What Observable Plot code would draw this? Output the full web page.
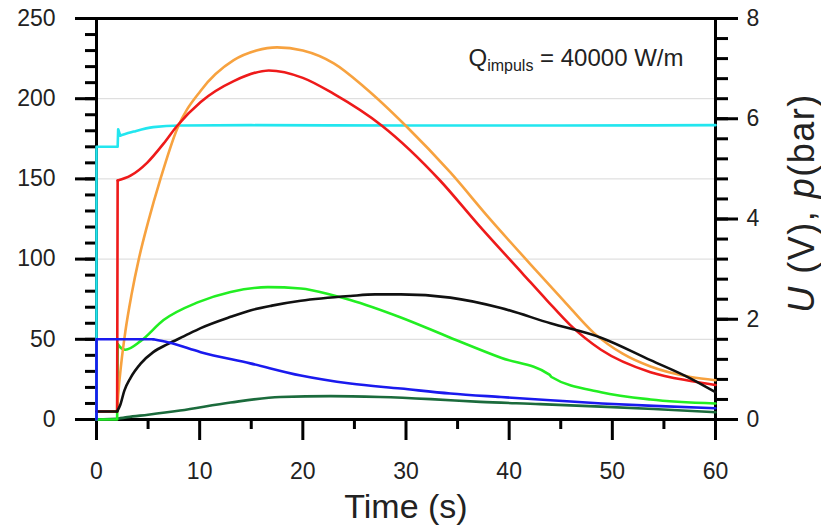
<!DOCTYPE html>
<html>
<head>
<meta charset="utf-8">
<script src="https://cdn.jsdelivr.net/npm/d3@7"></script>
<script src="https://cdn.jsdelivr.net/npm/@observablehq/plot@0.6"></script>
<style>
  html, body { margin: 0; padding: 0; background: #ffffff; }
  #chart { width: 821px; height: 527px; }
</style>
</head>
<body>
<div id="chart"></div>
<script>
// ---------- data (time in s, values in left-axis units) ----------
const xTicks = [0, 10, 20, 30, 40, 50, 60];
const xMinorTicks = [5, 15, 25, 35, 45, 55];
const yLeftTicks = [0, 50, 100, 150, 200, 250];
const yLeftMinorTicks = d3.range(0, 251, 10);
const yRightTicks = [0, 2, 4, 6, 8];
const yRightMinorTicks = d3.range(0, 8.01, 0.4);
const gridValues = [50, 100, 150, 200];
const rightMax = 8;
const leftMax = 250;

// each series: times, values, and the index where the step-like start ends (smooth curve afterwards)
const cyanT = [0, 0, 2.05, 2.1, 2.3, 3.6, 5.5, 8.1, 15, 30, 45, 60];
const cyanV = [0, 170, 170, 181, 177, 179.5, 182.3, 183.3, 183.5, 183.3, 183.3, 183.5];
const cyanStep = 4;

const blueT = [0, 0, 5.5, 7, 10.1, 14.9, 19.8, 24.6, 29.5, 34.3, 39.2, 44, 49, 54, 60];
const blueV = [0, 50, 50, 48, 42, 35, 27.4, 22.4, 19.3, 16.2, 14, 12, 10, 8.5, 7];
const blueStep = 2;

const darkGreenT = [0, 2, 3, 5, 8.1, 13, 17.8, 22.7, 27.5, 32.4, 37.2, 43, 48.9, 54, 60];
const darkGreenV = [0, 0.5, 1.5, 3, 5.6, 10.6, 14, 14.6, 14, 12.7, 11, 9.6, 8, 6.5, 4.5];
const darkGreenStep = 1;

const greenT = [0, 2, 2.05, 2.4, 2.8, 4.3, 6.5, 9.8, 13, 16.6, 19.8, 23, 24.6, 29.5, 34.3, 39.2, 43.9, 44.1, 48.9, 53.7, 60];
const greenV = [0, 0, 47, 44.5, 43.5, 49, 62, 73, 79.5, 82.5, 81.7, 77.3, 74.5, 63.6, 51, 38.5, 28, 26.5, 17, 12.5, 10];
const greenStep = 2;

const orangeT = [0, 2, 2.1, 2.4, 2.8, 3.4, 4.1, 5, 6.2, 7.8, 10.1, 13.3, 15.5, 17.5, 20, 23, 26, 30, 34.3, 38, 42.6, 45.3, 48.2, 51, 53.7, 57.6, 60];
const orangeV = [5, 5, 15, 35, 55, 78, 100, 123, 150, 181, 205, 224, 230, 232, 230, 222, 207, 183, 154, 126, 93, 74, 54, 41, 33, 26.5, 24.5];
const orangeStep = 1;

const redT = [0, 2, 2.05, 3.3, 4.9, 6.5, 7.8, 10.1, 13.3, 16.7, 20, 23, 27.7, 33.3, 37, 41.3, 43.7, 45.9, 48.9, 53.7, 57.6, 60];
const redV = [5, 5, 149, 152, 160, 172, 183, 198, 211, 217.6, 213, 203, 183, 149, 121.5, 91, 74, 59, 43.5, 29.5, 24, 21.5];
const redStep = 2;

const blackT = [0, 2, 2.3, 2.7, 3.3, 4.3, 5.5, 6.9, 8.5, 10.1, 13, 14.9, 17, 19.8, 24.6, 27, 29.5, 34.3, 39.2, 44, 48.9, 53.7, 57.6, 60];
const blackV = [5, 5, 9, 18, 26, 35, 42, 47, 52, 57, 64, 68, 71, 74, 77, 78, 78, 76, 69.5, 60, 51, 37, 25.5, 17];
const blackStep = 1;

const seriesList = [
  {t: cyanT, v: cyanV, step: cyanStep, color: "#22e6ef"},
  {t: darkGreenT, v: darkGreenV, step: darkGreenStep, color: "#1b6b3c"},
  {t: greenT, v: greenV, step: greenStep, color: "#22ee22"},
  {t: orangeT, v: orangeV, step: orangeStep, color: "#f7a23f"},
  {t: redT, v: redV, step: redStep, color: "#ee1a1a"},
  {t: blackT, v: blackV, step: blackStep, color: "#111111"},
  {t: blueT, v: blueV, step: blueStep, color: "#1a1aee"}
];

const toPoints = (s) => s.t.map((t, i) => ({t, v: s.v[i]}));
const rightToLeft = (r) => r * leftMax / rightMax;

const font = "'Liberation Sans', Arial, Helvetica, sans-serif";
const textColor = "#222";
const lw = 2.6;

const lineMarks = seriesList.flatMap(s => {
  const pts = toPoints(s);
  return [
    Plot.line(pts.slice(0, s.step + 1), {x: "t", y: "v", stroke: s.color, strokeWidth: lw, curve: "linear", strokeLinejoin: "round"}),
    Plot.line(pts.slice(s.step), {x: "t", y: "v", stroke: s.color, strokeWidth: lw, curve: "monotone-x", strokeLinejoin: "round"})
  ];
});

const chart = Plot.plot({
  width: 821,
  height: 527,
  marginLeft: 96,
  marginRight: 106,
  marginTop: 18,
  marginBottom: 108,
  style: {fontFamily: font, background: "#ffffff", color: textColor},
  x: {domain: [0, 60]},
  y: {domain: [0, leftMax]},
  marks: [
    Plot.gridY(gridValues, {stroke: "#d8d8d8", strokeOpacity: 1, strokeWidth: 1}),
    // bottom axis
    Plot.axisX({ticks: xMinorTicks, tickSize: 10, fill: "none", label: null, stroke: "#000", strokeWidth: 3}),
    Plot.axisX({ticks: xTicks, tickSize: 21, tickPadding: 22, fontSize: 23, fill: textColor, label: null, stroke: "#000", strokeWidth: 3}),
    // left axis
    Plot.axisY({ticks: yLeftMinorTicks, tickSize: 11, fill: "none", label: null, stroke: "#000", strokeWidth: 3}),
    Plot.axisY({ticks: yLeftTicks, tickSize: 21, tickPadding: 20, fontSize: 23, fill: textColor, label: null, stroke: "#000", strokeWidth: 3}),
    // right axis (0–8 scale mapped onto the same pixel range)
    Plot.axisY({anchor: "right", ticks: yRightMinorTicks.map(rightToLeft), tickSize: 12, fill: "none", label: null, stroke: "#000", strokeWidth: 3}),
    Plot.axisY({anchor: "right", ticks: yRightTicks.map(rightToLeft), tickFormat: d => d3.format("d")(d * rightMax / leftMax), tickSize: 22, tickPadding: 9, fontSize: 23, fill: textColor, label: null, stroke: "#000", strokeWidth: 3}),
    Plot.frame({stroke: "#000", strokeWidth: 3}),
    ...lineMarks,
    // titles
    Plot.text(["Time (s)"], {text: d => d, frameAnchor: "bottom", dy: 98, lineAnchor: "bottom", fontSize: 34, fill: textColor}),
    Plot.text(["U (V), p(bar)"], {text: d => d, frameAnchor: "right", dx: 87, dy: -16, rotate: -90, textAnchor: "middle", lineAnchor: "middle", fontSize: 36, fill: textColor, className: "rlabel"}),
    Plot.text(["Q = 40000 W/m"], {text: d => d, frameAnchor: "top-left", dx: 372, dy: 47, textAnchor: "start", lineAnchor: "bottom", fontSize: 24, fill: textColor, className: "qlabel"})
  ]
});

document.getElementById("chart").appendChild(chart);

// rich text: subscript and italics
const q = chart.querySelector(".qlabel text");
if (q) {
  q.textContent = "";
  const sel = d3.select(q);
  sel.append("tspan").text("Q");
  sel.append("tspan").attr("font-size", 16).attr("dy", 5).text("impuls");
  sel.append("tspan").attr("dy", -5).text(" = 40000 W/m");
}
const r = chart.querySelector(".rlabel text");
if (r) {
  r.textContent = "";
  r.setAttribute("letter-spacing", "1.5");
  const sel = d3.select(r);
  sel.append("tspan").attr("font-style", "italic").text("U");
  sel.append("tspan").text(" (V), ");
  sel.append("tspan").attr("font-style", "italic").text("p");
  sel.append("tspan").text("(bar)");
}
</script>
</body>
</html>
